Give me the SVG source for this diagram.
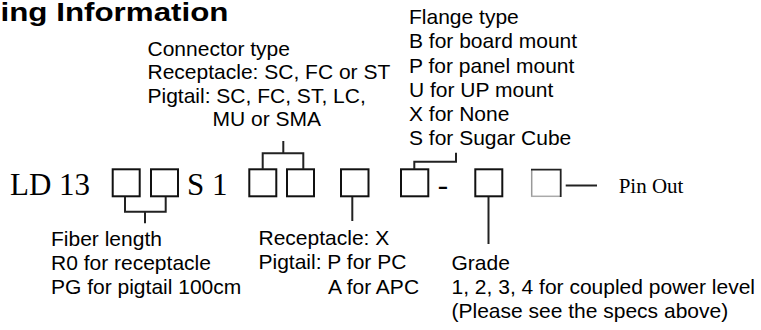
<svg xmlns="http://www.w3.org/2000/svg" width="761" height="330" viewBox="0 0 761 330">
<style>
.t{font-family:"Liberation Sans",Arial,sans-serif;font-size:21px;fill:#000}
.tm{font-family:"Liberation Serif","Times New Roman",serif;fill:#000}
.title{font-family:"Liberation Sans",Arial,sans-serif;font-weight:bold;font-size:26px;fill:#000}
.box{fill:#fff;stroke:#111;stroke-width:2}
.con{fill:none;stroke:#222;stroke-width:2}
</style>
<rect width="761" height="330" fill="#fff"/>
<g id="title"><text class="title" x="0.5" y="20.5" textLength="228" lengthAdjust="spacingAndGlyphs">ing Information</text></g>
<g id="code-prefix"><text class="tm" x="10" y="195" font-size="31">LD 13</text></g>
<g id="box-length-1"><rect class="box" x="112.7" y="169.3" width="27" height="27"/></g>
<g id="box-length-2"><rect class="box" x="151" y="169.3" width="27" height="27"/></g>
<g id="code-s1"><text class="tm" x="187" y="195" font-size="31">S 1</text></g>
<g id="box-connector-1"><rect class="box" x="249.3" y="169.3" width="27" height="27"/></g>
<g id="box-connector-2"><rect class="box" x="287" y="169.3" width="27" height="27"/></g>
<g id="box-polish"><rect class="box" x="341" y="169.3" width="27.5" height="27"/></g>
<g id="box-flange"><rect class="box" x="401" y="169.3" width="27.3" height="27"/></g>
<g id="dash"><text class="tm" x="437.8" y="195" font-size="31">-</text></g>
<g id="box-grade"><rect class="box" x="475.3" y="169.3" width="27" height="27"/></g>
<g id="box-pinout">
<path d="M531.7,197 V169.5" fill="none" stroke="#999" stroke-width="1.5"/>
<path d="M531,196.3 H561" fill="none" stroke="#aaa" stroke-width="1.5"/>
<path d="M531,169.7 H560.7 V197" fill="none" stroke="#222" stroke-width="1.8"/>
</g>
<g id="label-pinout"><text class="tm" x="618.7" y="193" font-size="21">Pin Out</text></g>
<g id="label-connector">
<text class="t" x="147.5" y="55.5">Connector type</text>
<text class="t" x="147.5" y="79">Receptacle: SC, FC or ST</text>
<text class="t" x="147.5" y="102.5">Pigtail: SC, FC, ST, LC,</text>
<text class="t" x="212.5" y="126">MU or SMA</text>
</g>
<g id="label-flange">
<text class="t" x="409" y="24">Flange type</text>
<text class="t" x="409" y="48.3">B for board mount</text>
<text class="t" x="409" y="72.5">P for panel mount</text>
<text class="t" x="409" y="96.7">U for UP mount</text>
<text class="t" x="409" y="121">X for None</text>
<text class="t" x="409" y="145.2">S for Sugar Cube</text>
</g>
<g id="label-length">
<text class="t" x="51" y="246">Fiber length</text>
<text class="t" x="51" y="270">R0 for receptacle</text>
<text class="t" x="51" y="294">PG for pigtail 100cm</text>
</g>
<g id="label-polish">
<text class="t" x="258.5" y="244.5">Receptacle: X</text>
<text class="t" x="258.5" y="269">Pigtail: P for PC</text>
<text class="t" x="328" y="293.5">A for APC</text>
</g>
<g id="label-grade">
<text class="t" x="451.5" y="270">Grade</text>
<text class="t" x="451.5" y="294">1, 2, 3, 4 for coupled power level</text>
<text class="t" x="451.5" y="318">(Please see the specs above)</text>
</g>
<g id="connectors">
<path class="con" d="M125,197 V211.7 H165.7 V197 M145,211.7 V223.3"/>
<path class="con" d="M262.7,169 V153.3 H303.3 V169 M283.3,153.3 V141"/>
<path class="con" d="M352.3,197 V221"/>
<path class="con" d="M414.3,169 V161.7 H456 V152.7"/>
<path class="con" d="M488.5,197 V244"/>
<path class="con" d="M565.7,185.5 H597" stroke-width="1.6"/>
</g>
</svg>
